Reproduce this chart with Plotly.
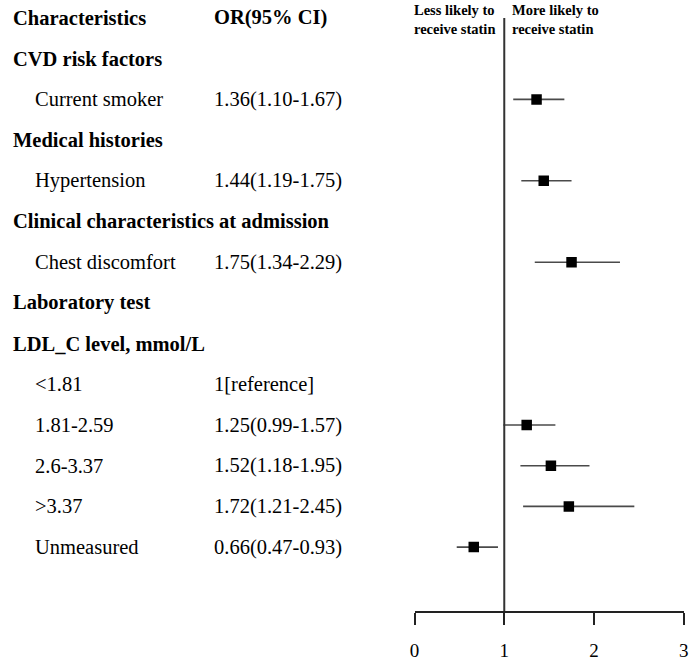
import plotly.graph_objects as go

# ---- data ----
row_labels = ["Characteristics", "CVD risk factors", "Current smoker", "Medical histories",
              "Hypertension", "Clinical characteristics at admission", "Chest discomfort",
              "Laboratory test", "LDL_C level, mmol/L", "&lt;1.81", "1.81-2.59", "2.6-3.37",
              "&gt;3.37", "Unmeasured"]
row_is_heading = [True, True, False, True, False, True, False, True, True,
                  False, False, False, False, False]
or_text = ["OR(95% CI)", "", "1.36(1.10-1.67)", "", "1.44(1.19-1.75)", "", "1.75(1.34-2.29)",
           "", "", "1[reference]", "1.25(0.99-1.57)", "1.52(1.18-1.95)", "1.72(1.21-2.45)",
           "0.66(0.47-0.93)"]

plot_rows = ["Current smoker", "Hypertension", "Chest discomfort", "1.81-2.59", "2.6-3.37",
             "&gt;3.37", "Unmeasured"]
or_value = [1.36, 1.44, 1.75, 1.25, 1.52, 1.72, 0.66]
ci_low = [1.10, 1.19, 1.34, 0.99, 1.18, 1.21, 0.47]
ci_high = [1.67, 1.75, 2.29, 1.57, 1.95, 2.45, 0.93]

x_ticks = [0, 1, 2, 3]

W, H = 700, 667
FONT = "Liberation Serif, Times New Roman, serif"

row_index = {lab: i for i, lab in enumerate(row_labels)}
ys = [row_index[r] for r in plot_rows]

fig = go.Figure()
fig.add_trace(go.Scatter(
    x=or_value, y=ys, mode="markers",
    marker=dict(symbol="square", size=10.5, color="black"),
    error_x=dict(type="data", symmetric=False,
                 array=[h - v for h, v in zip(ci_high, or_value)],
                 arrayminus=[v - l for v, l in zip(or_value, ci_low)],
                 color="#4a4a4a", thickness=1.6, width=0),
    showlegend=False, hoverinfo="skip"))

# reference line at OR = 1
fig.add_shape(type="line", xref="x", yref="y", x0=1, x1=1, y0=0, y1=14.57,
              line=dict(color="#333", width=2))

anns = []
for i, (lab, bold, ort) in enumerate(zip(row_labels, row_is_heading, or_text)):
    txt = f"<b>{lab}</b>" if bold else lab
    xpx = 6 if bold else 28
    anns.append(dict(text=txt, xref="paper", yref="y", x=xpx / W, y=i,
                     xanchor="left", yanchor="middle", showarrow=False,
                     font=dict(family=FONT, size=20.5, color="black")))
    if ort:
        t = f"<b>{ort}</b>" if i == 0 else ort
        anns.append(dict(text=t, xref="paper", yref="y", x=210 / W, y=i,
                         xanchor="left", yanchor="middle", showarrow=False,
                         font=dict(family=FONT, size=20.5, color="black")))

anns.append(dict(text="<b>Less likely to<br>receive statin</b>", xref="x", yref="paper",
                 x=1, y=1, xanchor="right", yanchor="top", xshift=-7, yshift=0,
                 align="left", showarrow=False,
                 font=dict(family=FONT, size=14.5, color="black")))
anns.append(dict(text="<b>More likely to<br>receive statin</b>", xref="x", yref="paper",
                 x=1, y=1, xanchor="left", yanchor="top", xshift=6, yshift=0,
                 align="left", showarrow=False,
                 font=dict(family=FONT, size=14.5, color="black")))

fig.update_layout(
    width=W, height=H, margin=dict(l=0, r=0, t=0, b=56),
    paper_bgcolor="white", plot_bgcolor="white",
    annotations=anns,
    xaxis=dict(domain=[415.5 / W, 688.5 / W], range=[0, 3], tickvals=x_ticks,
               showline=True, linecolor="#222", linewidth=1.6, ticks="outside",
               ticklen=12, tickwidth=1.6, tickcolor="#222", showgrid=False,
               zeroline=False, ticklabelstandoff=9,
               tickfont=dict(family=FONT, size=19, color="black")),
    yaxis=dict(range=[14.57, -0.442], visible=False, showgrid=False, zeroline=False),
)

fig.write_html(
    "out.html",
    config={"displayModeBar": False},
    post_script=("document.body.style.margin='0';"
                 "document.body.style.overflow='hidden';"
                 "document.documentElement.style.overflow='hidden';"),
)
